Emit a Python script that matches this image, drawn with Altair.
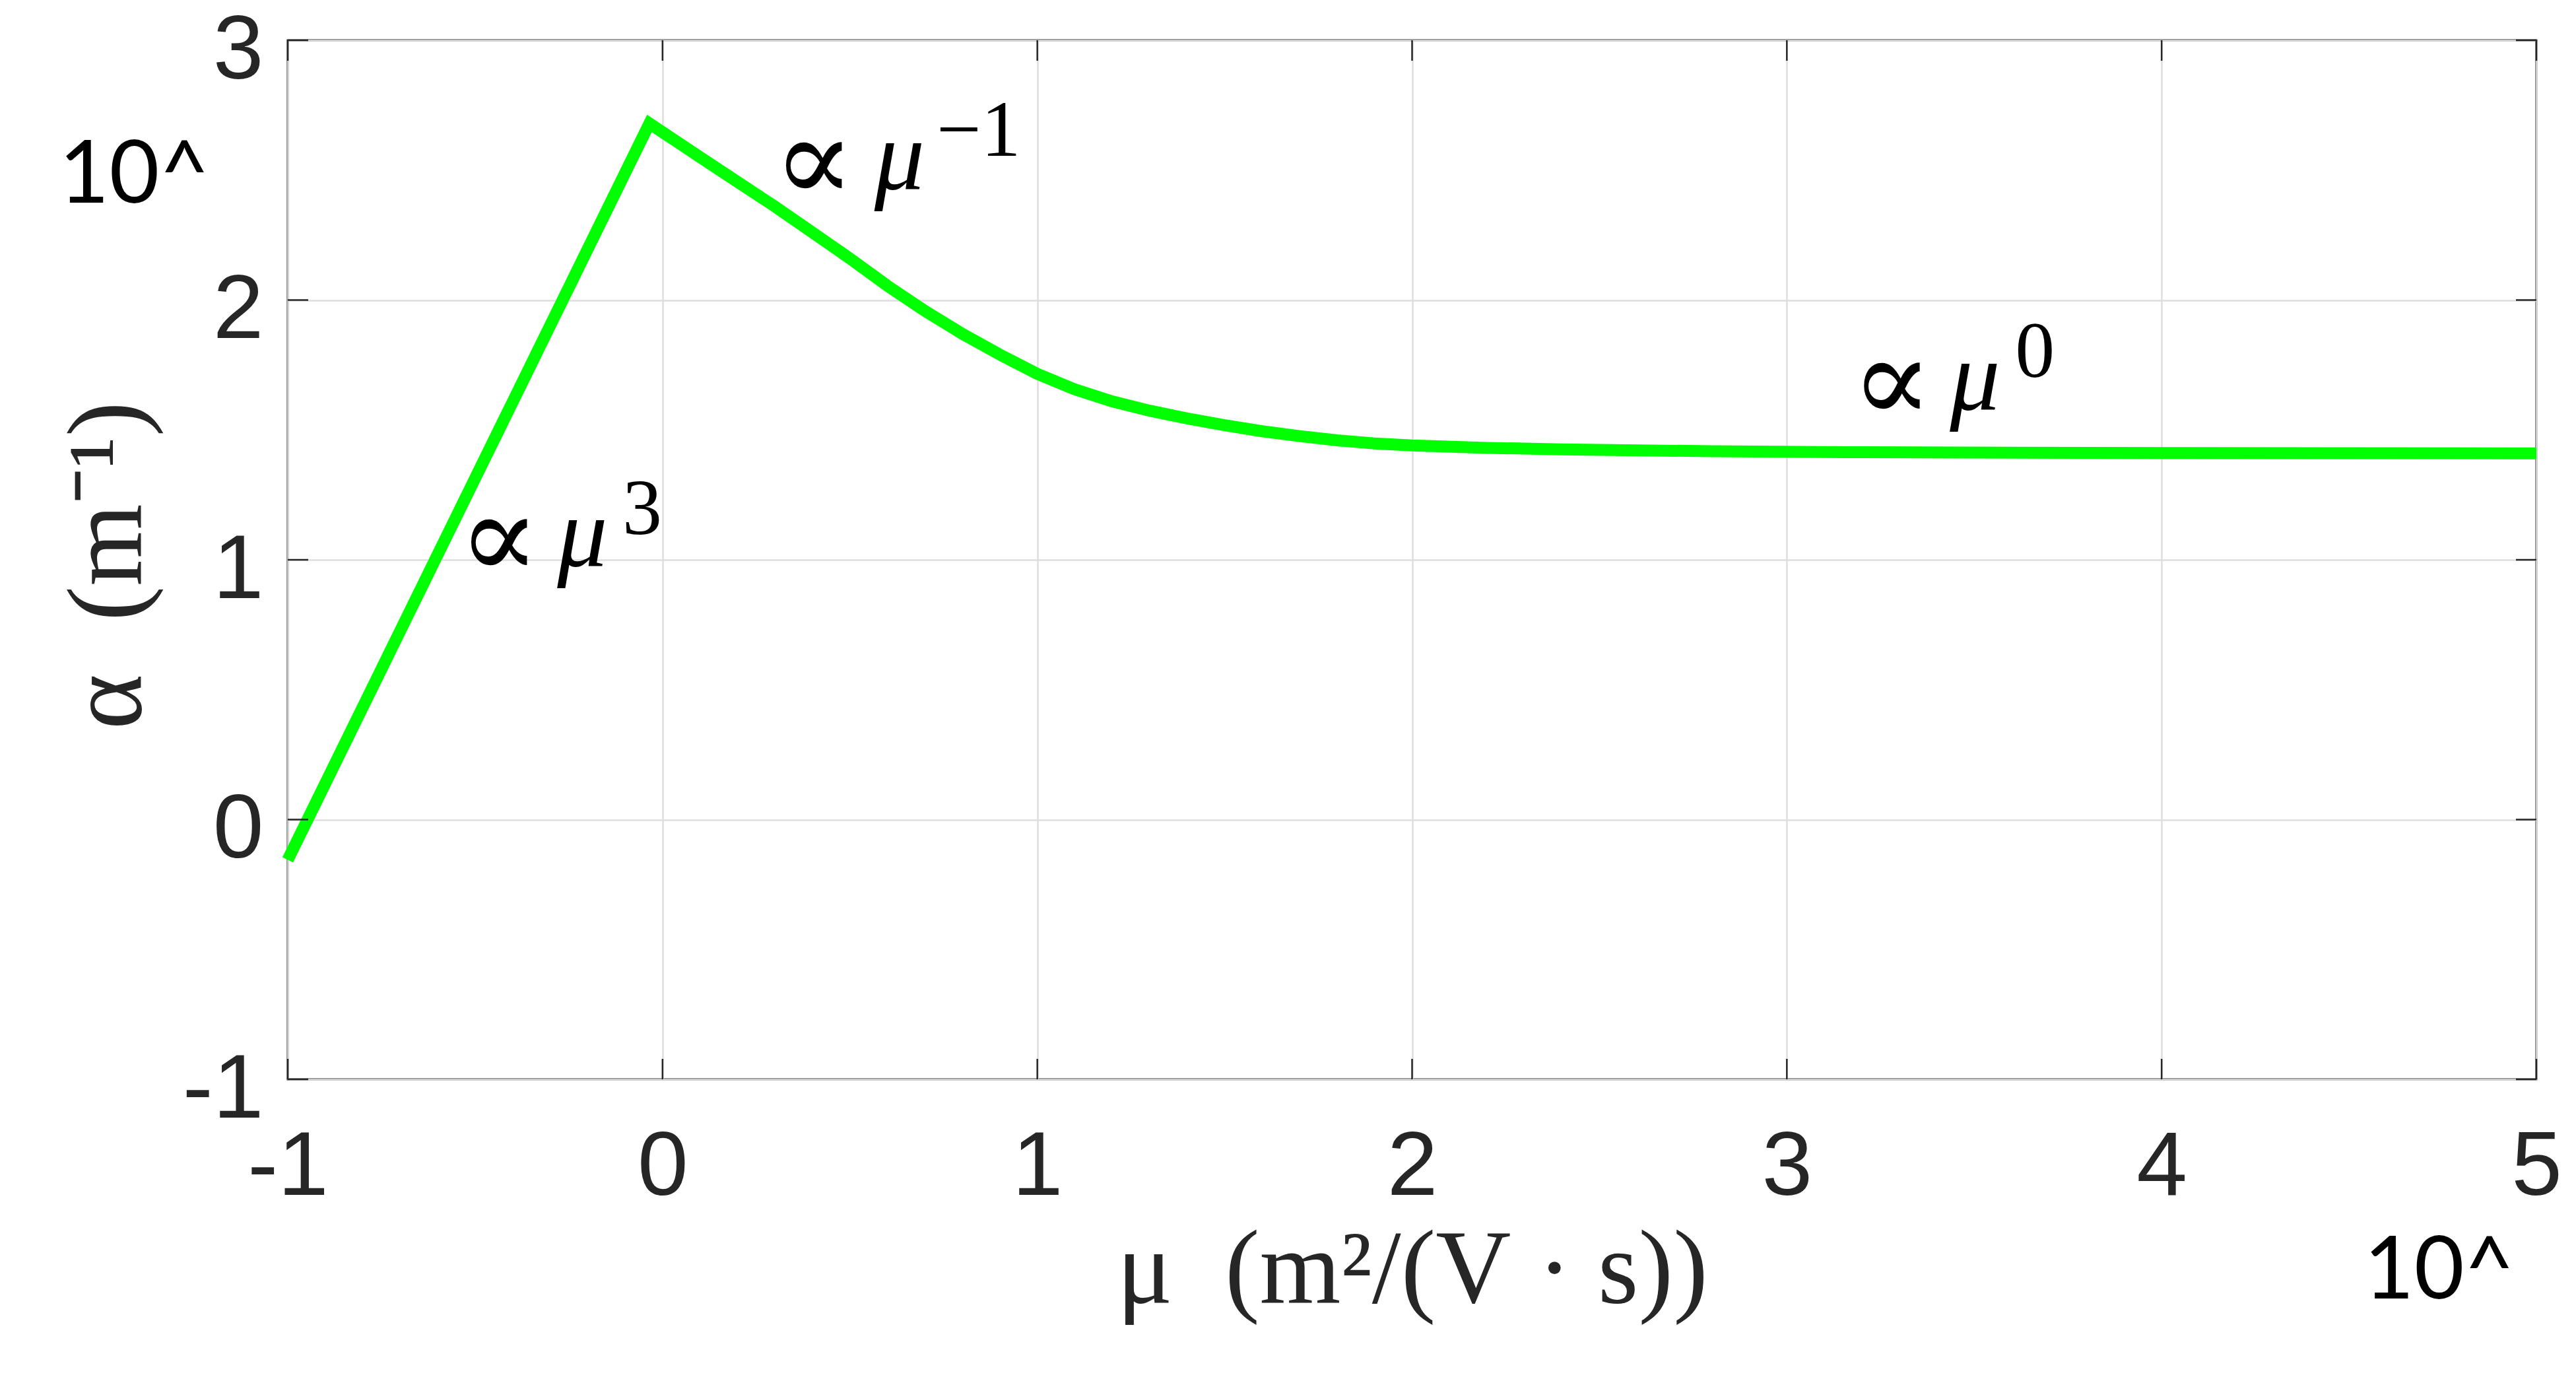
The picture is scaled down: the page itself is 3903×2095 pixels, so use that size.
import altair as alt
import pandas as pd

# ---- data ----
mu = [-1.0, -0.035, 0.1, 0.2, 0.3, 0.4, 0.5, 0.6, 0.7, 0.8, 0.9, 1.0, 1.1, 1.2, 1.3,
      1.4, 1.5, 1.6, 1.7, 1.8, 1.9, 2.0, 2.2, 2.4, 2.8, 3.2, 4.0, 5.0]
alpha = [-0.155, 2.68, 2.55, 2.455, 2.36, 2.26, 2.16, 2.055, 1.958, 1.87, 1.79, 1.716,
         1.656, 1.61, 1.574, 1.544, 1.518, 1.495, 1.476, 1.46, 1.448, 1.44, 1.431,
         1.425, 1.418, 1.414, 1.411, 1.41]

x_ticks = [-1, 0, 1, 2, 3, 4, 5]
y_ticks = [-1, 0, 1, 2, 3]

# annotation "∝ μ^p" pieces (data coordinates)
ann_sym_x = [0.295, -0.545, 3.171]
ann_mu_x = [0.565, -0.281, 3.435]
ann_y = [2.426, 0.975, 1.576]
ann_sup_x = [0.731, -0.107, 3.609]
ann_sup_y = [2.556, 1.099, 1.705]
ann_sup_text = ["−1", "3", "0"]

exp_x = [-1.61, 4.54]
exp_y = [2.376, -1.843]
exp_text = ["10^", "10^"]

# ---- layout ----
W, H = 3407, 1574
TICK = 31
DARK = "#262626"
NB = "\u00a0"

xs = alt.Scale(domain=[-1, 5], nice=False, zero=False)
ys = alt.Scale(domain=[-1, 3], nice=False, zero=False)

x_axis = alt.Axis(
    values=x_ticks, grid=True, gridColor="#dedede", gridWidth=2.5,
    domain=False, ticks=False, tickSize=0,
    labelFont="Liberation Sans", labelFontSize=138, labelColor=DARK,
    labelPadding=65, labelFlush=False, labelOverlap=False, labelExpr="datum.value",
    title="μ" + NB * 2 + "(m²/(V" + NB + "·" + NB + "s))",
    titleFont="Liberation Serif", titleFontSize=158,
    titleFontWeight="normal", titleColor=DARK, titleX=W / 2, titleY=337,
    titleBaseline="alphabetic", titleAlign="center",
)
y_axis = alt.Axis(
    values=y_ticks, grid=True, gridColor="#dedede", gridWidth=2.5,
    domain=False, ticks=False, tickSize=0,
    labelFont="Liberation Sans", labelFontSize=138, labelColor=DARK,
    labelPadding=37, labelOffset=16, labelOverlap=False, labelExpr="datum.value",
    title="α" + NB * 2 + "(m⁻¹)", titleFont="Liberation Serif", titleFontSize=160,
    titleFontWeight="normal", titleColor=DARK, titleAngle=270,
    titleX=-224, titleY=H / 2 + 8, titleBaseline="alphabetic", titleAlign="center",
)


def X(field):
    return alt.X(field, type="quantitative", scale=xs, axis=x_axis)


def Y(field):
    return alt.Y(field, type="quantitative", scale=ys, axis=y_axis)


curve = alt.Chart(pd.DataFrame({"mu": mu, "alpha": alpha})).mark_line(
    color="#00ff00", strokeWidth=18, clip=False
).encode(x=X("mu"), y=Y("alpha"))

xt = pd.DataFrame({"mu": x_ticks})
yt = pd.DataFrame({"alpha": y_ticks})
rule_kw = dict(color=DARK, strokeWidth=2.5)

xtick_bottom = alt.Chart(xt).mark_rule(**rule_kw).encode(
    x=X("mu"), y=alt.value(H), y2=alt.value(H - TICK))
xtick_top = alt.Chart(xt).mark_rule(**rule_kw).encode(
    x=X("mu"), y=alt.value(0), y2=alt.value(TICK))
ytick_left = alt.Chart(yt).mark_rule(**rule_kw).encode(
    y=Y("alpha"), x=alt.value(0), x2=alt.value(TICK))
ytick_right = alt.Chart(yt).mark_rule(**rule_kw).encode(
    y=Y("alpha"), x=alt.value(W), x2=alt.value(W - TICK))

sym = alt.Chart(pd.DataFrame({"mu": ann_sym_x, "alpha": ann_y, "s": ["∝"] * 3})).mark_text(
    font="DejaVu Serif", fontSize=183, dy=18, color="black", align="left", baseline="alphabetic"
).encode(x=X("mu"), y=Y("alpha"), text="s:N")

mus = alt.Chart(pd.DataFrame({"mu": ann_mu_x, "alpha": ann_y, "s": ["μ"] * 3})).mark_text(
    font="Liberation Serif", fontSize=152, fontStyle="italic", color="black",
    align="left", baseline="alphabetic"
).encode(x=X("mu"), y=Y("alpha"), text="s:N")

sups = alt.Chart(pd.DataFrame({"mu": ann_sup_x, "alpha": ann_sup_y, "s": ann_sup_text})).mark_text(
    font="Liberation Serif", fontSize=120, color="black", align="left", baseline="alphabetic"
).encode(x=X("mu"), y=Y("alpha"), text="s:N")

exps = alt.Chart(pd.DataFrame({"mu": exp_x, "alpha": exp_y, "s": exp_text})).mark_text(
    font="Lato", fontSize=131, color="black", align="left", baseline="alphabetic", clip=False
).encode(x=X("mu"), y=Y("alpha"), text="s:N")

chart = alt.layer(
    curve, xtick_bottom, xtick_top, ytick_left, ytick_right, sym, mus, sups, exps
).properties(
    width=W, height=H,
    autosize=alt.AutoSizeParams(type="none"),
    padding={"left": 428, "top": 53, "right": 40, "bottom": 380},
    background="white",
).configure_view(stroke=DARK, strokeWidth=3)

chart.save("out.html", embed_options={"renderer": "svg", "actions": False})
